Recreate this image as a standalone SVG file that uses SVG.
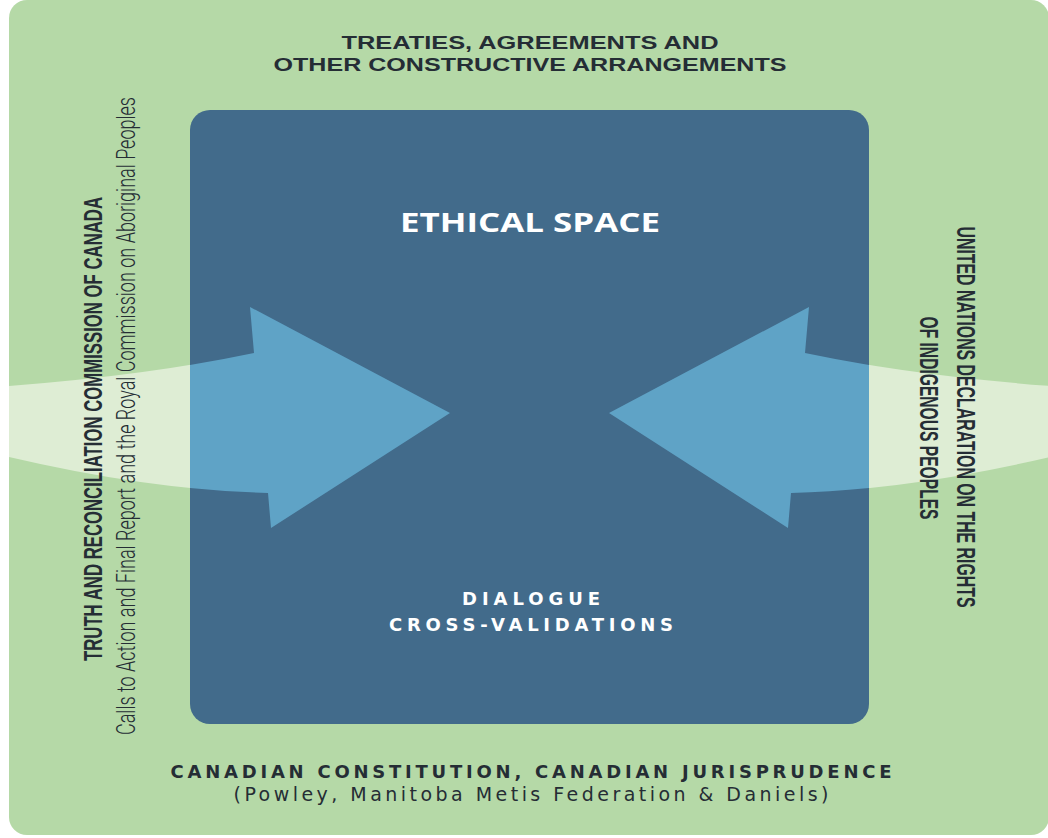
<svg xmlns="http://www.w3.org/2000/svg" width="1048" height="838" viewBox="0 0 1048 838">
  <style>
    .cond { font-family: "Liberation Sans Narrow", "Liberation Sans", Arial, sans-serif; font-weight: bold; fill: #252d35; }
    .light { font-family: Roboto, "Liberation Sans", sans-serif; font-weight: 300; fill: #252d35; }
    .geo { font-family: "DejaVu Sans", "Open Sans", "Liberation Sans", sans-serif; fill: #252d35; font-variant-ligatures: none; }
    .white { fill: #ffffff; }
  </style>
  <defs>
    <path id="leftShape" d="M 9 386 Q 150 375 254 353 L 250 307 L 450 413 L 271 528 L 268 493 Q 150 490 9 457 Z"/>
    <clipPath id="rectClip">
      <rect x="190" y="110" width="679" height="614" rx="20"/>
    </clipPath>
  </defs>

  <g id="background">
    <rect x="9" y="0" width="1040" height="835" rx="18" fill="#b5d9a7"/>
  </g>

  <g id="band">
    <use href="#leftShape" fill="#deedd4"/>
    <use href="#leftShape" fill="#deedd4" transform="matrix(-1 0 0 1 1059 0)"/>
  </g>

  <g id="ethical-space">
    <rect x="190" y="110" width="679" height="614" rx="20" fill="#426b8b"/>
    <text x="530" y="232" text-anchor="middle" font-family="'Open Sans', Lato, 'Liberation Sans', sans-serif" font-weight="bold" font-size="27" class="white" textLength="260" lengthAdjust="spacingAndGlyphs">ETHICAL SPACE</text>
  </g>

  <g id="connectors" clip-path="url(#rectClip)">
    <use href="#leftShape" fill="#5fa3c6"/>
    <use href="#leftShape" fill="#5fa3c6" transform="matrix(-1 0 0 1 1059 0)"/>
  </g>

  <g id="dialogue">
    <text x="531" y="605" text-anchor="middle" class="geo white" font-weight="bold" font-size="18" textLength="138" lengthAdjust="spacing">DIALOGUE</text>
    <text x="531" y="631" text-anchor="middle" class="geo white" font-weight="bold" font-size="18" textLength="284" lengthAdjust="spacing">CROSS-VALIDATIONS</text>
  </g>

  <g id="treaties">
    <text x="530" y="49" text-anchor="middle" class="cond" font-size="18" textLength="377" lengthAdjust="spacingAndGlyphs">TREATIES, AGREEMENTS AND</text>
    <text x="530" y="71" text-anchor="middle" class="cond" font-size="18" textLength="513" lengthAdjust="spacingAndGlyphs">OTHER CONSTRUCTIVE ARRANGEMENTS</text>
  </g>

  <g id="trc">
    <text transform="translate(102,429) rotate(-90)" x="0" y="0" text-anchor="middle" class="cond" font-size="26" textLength="464" lengthAdjust="spacingAndGlyphs">TRUTH AND RECONCILIATION COMMISSION OF CANADA</text>
    <text transform="translate(135,416) rotate(-90)" x="0" y="0" text-anchor="middle" class="light" font-size="25" textLength="638" lengthAdjust="spacingAndGlyphs">Calls to Action and Final Report and the Royal Commission on Aboriginal Peoples</text>
  </g>

  <g id="undrip">
    <text transform="translate(957,417) rotate(90)" x="0" y="0" text-anchor="middle" class="cond" font-size="26" textLength="381" lengthAdjust="spacingAndGlyphs">UNITED NATIONS DECLARATION ON THE RIGHTS</text>
    <text transform="translate(920,418) rotate(90)" x="0" y="0" text-anchor="middle" class="cond" font-size="26" textLength="203" lengthAdjust="spacingAndGlyphs">OF INDIGENOUS PEOPLES</text>
  </g>

  <g id="constitution">
    <text x="531" y="778" text-anchor="middle" class="geo" font-weight="bold" font-size="18" textLength="721" lengthAdjust="spacing">CANADIAN CONSTITUTION, CANADIAN JURISPRUDENCE</text>
    <text x="531" y="801" text-anchor="middle" class="geo" font-size="19" textLength="595" lengthAdjust="spacing">(Powley, Manitoba Metis Federation &amp; Daniels)</text>
  </g>
</svg>
